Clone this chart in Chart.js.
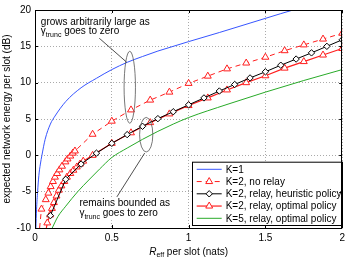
<!DOCTYPE html>
<html><head><meta charset="utf-8">
<script src="https://cdn.jsdelivr.net/npm/chart.js@4.4.0/dist/chart.umd.min.js"></script>
<style>html,body{margin:0;padding:0;background:#fff;}canvas{display:block;}</style>
</head><body>
<canvas id="c" width="349" height="259"></canvas>
<script>
// ---- data ----
const xK1 = [0.006,0.01,0.017,0.025,0.035,0.045,0.066,0.1,0.13,0.2,0.3,0.4,0.5,0.6,0.7,0.8,0.9,1.0,1.2,1.4,1.6,1.68];
const yK1 = [-10,-7.5,-5,-2.8,-1.2,0,2.2,4.3,5.4,7.4,9.3,10.6,11.8,12.8,13.6,14.35,15.0,15.65,16.9,18.2,19.5,20];

const xNoRelay = [0.03,0.042,0.07,0.087,0.102,0.117,0.13,0.144,0.159,0.176,0.198,0.212,0.23,0.246,0.26,0.375,0.5,0.625,0.75,0.875,1.0,1.125,1.25,1.375,1.5,1.625,1.75,1.875,2.0];
const yNoRelay = [-10,-7.4,-6.1,-5.2,-4.3,-3.6,-3.0,-2.5,-2.0,-1.5,-0.9,-0.5,-0.1,0.3,0.6,2.9,4.7,6.25,7.6,8.7,9.9,10.9,11.9,12.7,13.5,14.4,15.2,16.0,16.8];

const xHeur = [0.1,0.2,0.3,0.4,0.5,0.6,0.7,0.8,0.9,1.0,1.1,1.2,1.3,1.4,1.5,1.6,1.7,1.8,1.9,2.0];
const yHeur = [-8.3,-3.3,-1.2,0.3,1.65,2.85,4.0,5.05,6.0,6.95,7.9,8.85,9.75,10.65,11.5,12.4,13.25,14.1,15.0,15.9];

const xOpt = [0.074,0.08,0.098,0.11,0.123,0.14,0.155,0.172,0.191,0.208,0.23,0.25,0.272,0.293,0.314,0.375,0.5,0.625,0.75,0.875,1.0,1.125,1.25,1.375,1.5,1.625,1.75,1.875,2.0];
const yOpt = [-10,-9.3,-8.2,-7.3,-6.5,-5.6,-4.8,-4.2,-3.6,-3.0,-2.5,-2.05,-1.6,-1.2,-0.8,0.0,1.65,3.1,4.5,5.7,6.85,7.9,9.0,10.0,10.95,12.0,12.9,13.8,14.7];

const xK5 = [0.112,0.15,0.2,0.278,0.35,0.42,0.5,0.6,0.7,0.8,0.9,1.0,1.25,1.5,1.75,2.0];
const yK5 = [-10,-8.4,-7.0,-5.0,-3.4,-1.9,-0.3,1.0,2.2,3.3,4.3,5.2,7.0,8.7,10.3,11.8];

const seriesLabels = ['K=1','K=2, no relay','K=2, relay, heuristic policy','K=2, relay, optimal policy','K=5, relay, optimal policy'];
const xTickValues = [0,0.5,1,1.5,2];
const xTickLabels = ['0','0.5','1','1.5','2'];
const yTickValues = [-10,-5,0,5,10,15,20];
const yTickLabels = ['-10','-5','0','5','10','15','20'];
const yTitle = 'expected network energy per slot (dB)';
const xTitleMain = 'R', xTitleSub = 'eff', xTitleRest = ' per slot (nats)';
const note1 = ['grows arbitrarily large as', 'goes to zero'];
const note2 = ['remains bounded as', 'goes to zero'];

// ---- annotation geometry (data units) ----
const ellipses = [ {cx:0.617, cy:9.37, rx:0.037, ry:4.95}, {cx:0.724, cy:2.84, rx:0.043, ry:2.38} ];
const pointers = [ {x1:0.416, y1:16.16, x2:0.597, y2:12.81}, {x1:0.714, y1:0.31, x2:0.533, y2:-5.72} ];
const notePos = [ {x:0.038, y1:18.0, y2:16.67}, {x:0.289, y1:-7.03, y2:-8.37} ];

const FONT = '"Liberation Sans", Arial, Helvetica, sans-serif';
Chart.defaults.font.family = FONT;
Chart.defaults.font.size = 10;
Chart.defaults.color = '#000';

const pts = (xs, ys) => xs.map((v,i)=>({x:v, y:ys[i]}));
const radii = (xs, r, skipFirst) => xs.map((v,i)=> (skipFirst && i===0) ? 0 : r);

const BLUE = 'rgb(55,85,255)', RED = 'rgb(255,30,30)', GREEN = 'rgb(40,170,40)', BLACK = '#000';

const datasets = [
  {label:seriesLabels[0], data:pts(xK1,yK1), borderColor:BLUE, borderWidth:1, pointRadius:0, cubicInterpolationMode:'monotone', order:5},
  {label:seriesLabels[1], data:pts(xNoRelay,yNoRelay), borderColor:RED, borderWidth:1, borderDash:[5,4], pointStyle:'triangle', pointRadius:radii(xNoRelay,4,true), pointBorderColor:RED, pointBackgroundColor:'#fff', pointBorderWidth:1, order:4},
  {label:seriesLabels[2], data:pts(xHeur,yHeur), borderColor:BLACK, borderWidth:1, pointStyle:'rectRot', pointRadius:3.2, pointBorderColor:BLACK, pointBackgroundColor:'#fff', pointBorderWidth:1, order:2},
  {label:seriesLabels[3], data:pts(xOpt,yOpt), borderColor:RED, borderWidth:1.2, pointStyle:'triangle', pointRadius:radii(xOpt,4,true), pointBorderColor:RED, pointBackgroundColor:'#fff', pointBorderWidth:1, order:3},
  {label:seriesLabels[4], data:pts(xK5,yK5), borderColor:GREEN, borderWidth:1, pointRadius:0, cubicInterpolationMode:'monotone', order:1}
];

function drawSubText(ctx, x, base, parts){
  let cx = x;
  parts.forEach(p=>{
    ctx.font = (p.italic?'italic ':'') + p.size + 'px ' + FONT;
    ctx.fillText(p.t, cx, base + (p.dy||0));
    cx += ctx.measureText(p.t).width;
  });
  return cx - x;
}
function measureParts(ctx, parts){
  let w=0; parts.forEach(p=>{ctx.font=(p.italic?'italic ':'')+p.size+'px '+FONT; w+=ctx.measureText(p.t).width;}); return w;
}

const overlay = {
  id:'overlay',
  afterDatasetsDraw(chart){
    const {ctx, chartArea:ca, scales:{x, y}} = chart;
    ctx.save();
    ctx.strokeStyle = '#555'; ctx.lineWidth = 0.8;
    ellipses.forEach(e=>{
      const cx = x.getPixelForValue(e.cx), cy = y.getPixelForValue(e.cy);
      const rx = Math.abs(x.getPixelForValue(e.cx+e.rx)-cx), ry = Math.abs(y.getPixelForValue(e.cy+e.ry)-cy);
      ctx.beginPath(); ctx.ellipse(cx, cy, rx, ry, 0, 0, 2*Math.PI); ctx.stroke();
    });
    ctx.strokeStyle = '#222'; ctx.lineWidth = 0.8;
    pointers.forEach(p=>{
      ctx.beginPath();
      ctx.moveTo(x.getPixelForValue(p.x1), y.getPixelForValue(p.y1));
      ctx.lineTo(x.getPixelForValue(p.x2), y.getPixelForValue(p.y2));
      ctx.stroke();
    });
    ctx.textBaseline = 'alphabetic'; ctx.textAlign = 'left';
    [note1, note2].forEach((note, i)=>{
      const np = notePos[i];
      const px = x.getPixelForValue(np.x), b1 = y.getPixelForValue(np.y1), b2 = y.getPixelForValue(np.y2);
      const l2 = [{t:'γ',size:10},{t:'trunc',size:7,dy:2.5},{t:' '+note[1],size:10}];
      ctx.font = '10px ' + FONT;
      const w1 = ctx.measureText(note[0]).width;
      const w2 = measureParts(ctx, l2);
      ctx.fillStyle = '#fff';
      ctx.fillRect(px-1, b1-9, Math.max(w1,w2)+2, (b2-b1)+13);
      ctx.fillStyle = '#000';
      ctx.font = '10px ' + FONT;
      ctx.fillText(note[0], px, b1);
      drawSubText(ctx, px, b2, l2);
    });
    // legend
    const lx = 192, ly = 161.7, lw = 150, lh = 63.3, rowH = 12.25;
    ctx.fillStyle = '#fff'; ctx.fillRect(lx, ly, lw, lh);
    ctx.strokeStyle = '#000'; ctx.lineWidth = 1;
    ctx.strokeRect(lx+0.5, ly+0.5, lw, lh);
    chart.data.datasets.forEach((ds, i)=>{
      const ry = ly + 7.6 + i*rowH;
      const x0 = lx + 4.7, x1 = lx + 29.7, xm = (x0+x1)/2;
      ctx.save();
      ctx.strokeStyle = ds.borderColor; ctx.lineWidth = ds.borderWidth;
      ctx.setLineDash(ds.borderDash || []);
      ctx.beginPath(); ctx.moveTo(x0, ry); ctx.lineTo(x1, ry); ctx.stroke();
      ctx.setLineDash([]);
      if (ds.pointStyle) {
        const r = Array.isArray(ds.pointRadius) ? ds.pointRadius[ds.pointRadius.length-1] : ds.pointRadius;
        ctx.fillStyle = ds.pointBackgroundColor; ctx.strokeStyle = ds.pointBorderColor; ctx.lineWidth = 1;
        Chart.helpers.drawPoint(ctx, {pointStyle: ds.pointStyle, radius: r, borderWidth: 1, rotation: 0}, xm, ry);
      }
      ctx.restore();
      ctx.fillStyle = '#000'; ctx.font = '10px ' + FONT; ctx.textBaseline = 'middle';
      ctx.fillText(ds.label, lx + 33.7, ry + 0.5);
    });
    // frame and inward ticks
    ctx.strokeStyle = '#000'; ctx.lineWidth = 1;
    ctx.strokeRect(Math.round(ca.left)+0.5, Math.round(ca.top)+0.5, Math.round(ca.right-ca.left)-1, Math.round(ca.bottom-ca.top));
    ctx.beginPath();
    xTickValues.forEach(v=>{ const p = Math.round(x.getPixelForValue(v))+0.5; ctx.moveTo(p, ca.bottom); ctx.lineTo(p, ca.bottom-3); ctx.moveTo(p, ca.top); ctx.lineTo(p, ca.top+3); });
    yTickValues.forEach(v=>{ const p = Math.round(y.getPixelForValue(v))+0.5; ctx.moveTo(ca.left, p); ctx.lineTo(ca.left+3, p); ctx.moveTo(ca.right, p); ctx.lineTo(ca.right-3, p); });
    ctx.stroke();
    const parts = [{t:xTitleMain,size:10,italic:true},{t:xTitleSub,size:7,dy:2.5},{t:xTitleRest,size:10}];
    const tw = measureParts(ctx, parts);
    ctx.fillStyle = '#000'; ctx.textBaseline = 'alphabetic';
    drawSubText(ctx, (ca.left+ca.right)/2 - tw/2, 254.5, parts);
    ctx.restore();
  }
};

new Chart(document.getElementById('c'), {
  type:'line',
  data:{datasets},
  options:{
    responsive:false, animation:false, devicePixelRatio:1,
    layout:{padding:{left:0, right:1, top:5, bottom:0}},
    plugins:{legend:{display:false}, tooltip:{enabled:false}},
    scales:{
      x:{type:'linear', min:0, max:2,
         afterBuildTicks:(s)=>{ s.ticks = xTickValues.map(v=>({value:v})); },
         afterFit:(s)=>{ s.height = 31; },
         ticks:{padding:4, maxRotation:0, autoSkip:false, callback:(v)=>{ const i = xTickValues.indexOf(v); return i>=0 ? xTickLabels[i] : ''; }},
         grid:{color:'#aaa', lineWidth:1, drawTicks:false},
         border:{display:false, dash:[1,2]}},
      y:{type:'linear', min:-10, max:20,
         afterBuildTicks:(s)=>{ s.ticks = yTickValues.map(v=>({value:v})); },
         afterFit:(s)=>{ s.width = 35; },
         ticks:{padding:4, autoSkip:false, callback:(v)=>{ const i = yTickValues.indexOf(v); return i>=0 ? yTickLabels[i] : ''; }},
         grid:{color:'#aaa', lineWidth:1, drawTicks:false},
         border:{display:false, dash:[1,2]},
         title:{display:true, text:yTitle, font:{size:10}, padding:{top:1, bottom:0}}}
    }
  },
  plugins:[overlay]
});
</script>
</body></html>
